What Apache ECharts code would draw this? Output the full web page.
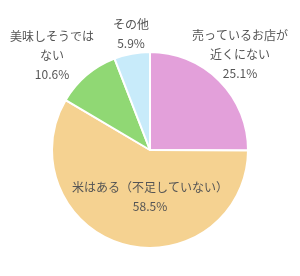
<!DOCTYPE html>
<html>
<head>
<meta charset="utf-8">
<script src="https://cdn.jsdelivr.net/npm/echarts@6/dist/echarts.min.js"></script>
<style>
  html, body { margin: 0; padding: 0; background: #fff; }
  #chart { width: 300px; height: 276px; }
</style>
</head>
<body>
<div id="chart"></div>
<script>
const categories = ["売っているお店が\n近くにない", "米はある（不足していない）", "美味しそうでは\nない", "その他"];
const shares = [25.1, 58.5, 10.6, 5.9];
const colors = ["#e3a0da", "#f5d291", "#90d874", "#c8ebfa"];

// label centres, tuned by eye
const labelPos = [
  [240, 54],
  [150, 197],
  [52, 55],
  [131, 34],
];

const chart = echarts.init(document.getElementById("chart"));
chart.setOption({
  animation: false,
  series: [
    {
      type: "pie",
      center: [150, 150],
      radius: 98,
      startAngle: 90,
      clockwise: true,
      avoidLabelOverlap: false,
      itemStyle: { borderColor: "#fff", borderWidth: 2 },
      label: {
        show: true,
        position: "outside",
        alignTo: "none",
        overflow: "none",
        width: 200,
        formatter: "{b}\n{c}%",
        color: "#555",
        fontSize: 12,
        lineHeight: 19,
        fontFamily: "Noto Sans CJK JP",
        align: "center",
      },
      labelLine: { show: false },
      labelLayout: (params) => ({
        x: labelPos[params.dataIndex][0],
        y: labelPos[params.dataIndex][1],
        align: "center",
        verticalAlign: "middle",
      }),
      data: categories.map((name, i) => ({
        name,
        value: shares[i],
        itemStyle: { color: colors[i] },
      })),
    },
  ],
});
</script>
</body>
</html>
